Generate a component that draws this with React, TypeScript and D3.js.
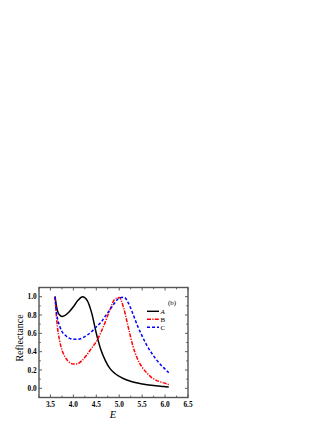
import { useEffect, useRef } from "react";
import * as d3 from "d3";

// photon energy grid and reflectance curves
const energy = [3.6, 3.62, 3.65, 3.7, 3.75, 3.8, 3.9, 4.0, 4.1, 4.2, 4.3, 4.4, 4.5, 4.6, 4.7, 4.8, 4.9, 5.0, 5.1, 5.2, 5.3, 5.4, 5.5, 5.6, 5.7, 5.8, 5.9, 6.0, 6.08];
const seriesA = [1.0, 0.93, 0.85, 0.8, 0.785, 0.79, 0.83, 0.89, 0.96, 1.0, 0.96, 0.82, 0.6, 0.42, 0.3, 0.215, 0.165, 0.13, 0.105, 0.085, 0.07, 0.058, 0.048, 0.04, 0.033, 0.027, 0.022, 0.018, 0.015];
const seriesB = [1.0, 0.85, 0.68, 0.52, 0.42, 0.36, 0.29, 0.265, 0.27, 0.31, 0.37, 0.44, 0.51, 0.61, 0.73, 0.86, 0.97, 0.99, 0.87, 0.66, 0.46, 0.32, 0.23, 0.17, 0.12, 0.09, 0.07, 0.055, 0.04];
const seriesC = [1.0, 0.88, 0.77, 0.68, 0.62, 0.59, 0.55, 0.535, 0.535, 0.55, 0.58, 0.62, 0.67, 0.72, 0.79, 0.86, 0.93, 0.985, 0.995, 0.93, 0.81, 0.68, 0.57, 0.47, 0.39, 0.32, 0.26, 0.21, 0.17];

const xTicks = [3.5, 4.0, 4.5, 5.0, 5.5, 6.0, 6.5];
const yTicks = [0.0, 0.2, 0.4, 0.6, 0.8, 1.0];
const legend = [
  { name: "A", values: seriesA, color: "#000", dash: null, italic: true },
  { name: "B", values: seriesB, color: "#ff0000", dash: "4,1.3,1.2,1.3", italic: false },
  { name: "C", values: seriesC, color: "#0000ff", dash: "3,2", italic: false },
];

export default function App() {
  const ref = useRef<SVGSVGElement>(null);

  useEffect(() => {
    const w = 327,
      h = 423;
    const m = { left: 39, right: 188, top: 287.5, bottom: 397.5 };
    const svg = d3.select(ref.current);
    svg.selectAll("*").remove();

    const x = d3.scaleLinear().domain([3.25, 6.5]).range([m.left, m.right]);
    const y = d3.scaleLinear().domain([-0.1, 1.1]).range([m.bottom, m.top]);
    const font = "'Liberation Serif', 'Times New Roman', serif";

    const line = d3
      .line<number>()
      .x((_, i) => x(energy[i]))
      .y((d) => y(d))
      .curve(d3.curveMonotoneX);

    legend.forEach((s) => {
      svg
        .append("path")
        .datum(s.values)
        .attr("d", line)
        .attr("fill", "none")
        .attr("stroke", s.color)
        .attr("stroke-width", 1.5)
        .attr("stroke-dasharray", s.dash);
    });

    // axes: ticks inside, mirrored on all four sides
    const minorX = d3.range(3.25, 6.51, 0.25);
    const minorY = d3.range(-0.1, 1.11, 0.1);
    const g = svg.append("g").attr("stroke", "#333").attr("stroke-width", 0.8);
    minorX.forEach((v) => {
      const major = xTicks.some((t) => Math.abs(t - v) < 1e-6);
      const len = major ? 3 : 1.8;
      g.append("line").attr("x1", x(v)).attr("x2", x(v)).attr("y1", m.bottom).attr("y2", m.bottom - len);
      g.append("line").attr("x1", x(v)).attr("x2", x(v)).attr("y1", m.top).attr("y2", m.top + len);
    });
    minorY.forEach((v) => {
      const major = yTicks.some((t) => Math.abs(t - v) < 1e-6);
      const len = major ? 3 : 1.8;
      g.append("line").attr("x1", m.left).attr("x2", m.left + len).attr("y1", y(v)).attr("y2", y(v));
      g.append("line").attr("x1", m.right).attr("x2", m.right - len).attr("y1", y(v)).attr("y2", y(v));
    });
    svg
      .append("rect")
      .attr("x", m.left)
      .attr("y", m.top)
      .attr("width", m.right - m.left)
      .attr("height", m.bottom - m.top)
      .attr("fill", "none")
      .attr("stroke", "#555")
      .attr("stroke-width", 1.4);

    svg
      .selectAll(".xl")
      .data(xTicks)
      .join("text")
      .attr("x", (d) => x(d))
      .attr("y", m.bottom + 9.5)
      .attr("text-anchor", "middle")
      .attr("font-family", font)
      .attr("font-weight", "bold")
      .attr("font-size", 7.3)
      .text((d) => d.toFixed(1));
    svg
      .selectAll(".yl")
      .data(yTicks)
      .join("text")
      .attr("x", m.left - 2.3)
      .attr("y", (d) => y(d) + 2.5)
      .attr("text-anchor", "end")
      .attr("font-family", font)
      .attr("font-weight", "bold")
      .attr("font-size", 7.3)
      .text((d) => d.toFixed(1));

    svg
      .append("text")
      .attr("transform", `translate(22.5,338) rotate(-90)`)
      .attr("text-anchor", "middle")
      .attr("font-family", font)
      .attr("font-size", 10)
      .text("Reflectance");
    svg
      .append("text")
      .attr("x", 113)
      .attr("y", m.bottom + 20.5)
      .attr("text-anchor", "middle")
      .attr("font-family", font)
      .attr("font-style", "italic")
      .attr("font-size", 10.5)
      .text("E");

    svg
      .append("text")
      .attr("x", 172)
      .attr("y", 305)
      .attr("text-anchor", "middle")
      .attr("font-family", font)
      .attr("font-size", 7)
      .text("(b)");
    legend.forEach((s, i) => {
      const ly = 311.3 + i * 8;
      svg
        .append("line")
        .attr("x1", 147)
        .attr("x2", 159)
        .attr("y1", ly)
        .attr("y2", ly)
        .attr("stroke", s.color)
        .attr("stroke-width", 1.4)
        .attr("stroke-dasharray", s.dash);
      svg
        .append("text")
        .attr("x", 160.5)
        .attr("y", ly + 2.4)
        .attr("font-family", font)
        .attr("font-style", s.italic ? "italic" : "normal")
        .attr("font-size", 7)
        .text(s.name);
    });

    svg.attr("width", w).attr("height", h);
  }, []);

  return <svg ref={ref} style={{ position: "absolute", left: 0, top: 0, background: "#fff" }} />;
}
